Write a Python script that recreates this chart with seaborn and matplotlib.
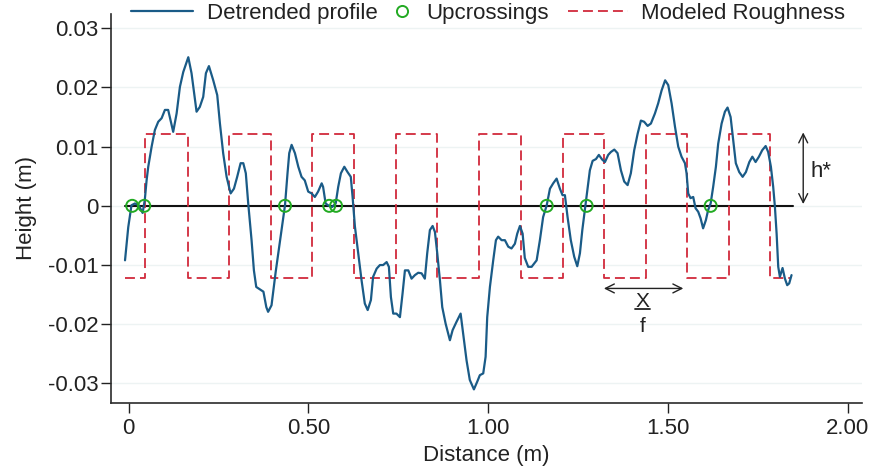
import numpy as np
import pandas as pd
import matplotlib
matplotlib.use("Agg")
import matplotlib.pyplot as plt
from matplotlib.lines import Line2D
import seaborn as sns

# ---------------- data ----------------
profile_x = [-0.010, -0.001, 0.008, 0.0175, 0.028, 0.039, 0.045, 0.050, 0.0546, 0.064,
             0.073, 0.0824, 0.0918, 0.101, 0.110, 0.124, 0.1335, 0.1427, 0.152, 0.166,
             0.175, 0.189, 0.198, 0.2075, 0.215, 0.2234, 0.2354, 0.2465, 0.254, 0.263,
             0.2726, 0.2837, 0.293, 0.302, 0.3115, 0.319, 0.326, 0.3327, 0.342, 0.3485,
             0.355, 0.365, 0.375, 0.383, 0.388, 0.3975, 0.409, 0.421, 0.435, 0.442,
             0.4468, 0.4534, 0.4626, 0.472, 0.481, 0.490, 0.4996, 0.509, 0.518, 0.527,
             0.537, 0.541, 0.548, 0.557, 0.566, 0.576, 0.583, 0.5905, 0.600, 0.609,
             0.618, 0.623, 0.6295, 0.6387, 0.648, 0.657, 0.665, 0.674, 0.680, 0.690,
             0.699, 0.708, 0.7177, 0.724, 0.7296, 0.736, 0.745, 0.7547, 0.762, 0.7686,
             0.778, 0.787, 0.7964, 0.8056, 0.815, 0.824, 0.8306, 0.838, 0.8456, 0.852,
             0.8585, 0.866, 0.8724, 0.8818, 0.889, 0.8937, 0.9012, 0.912, 0.9235, 0.9307,
             0.940, 0.949, 0.9605, 0.9697, 0.977, 0.9864, 0.993, 0.9975, 1.005, 1.0142,
             1.0217, 1.028, 1.0375, 1.0467, 1.056, 1.065, 1.0745, 1.081, 1.0885, 1.096,
             1.102, 1.1115, 1.121, 1.135, 1.144, 1.153, 1.163, 1.172, 1.181, 1.1905,
             1.1997, 1.207, 1.2136, 1.221, 1.230, 1.2395, 1.248, 1.2554, 1.262, 1.269,
             1.2768, 1.283, 1.2907, 1.300, 1.308, 1.3175, 1.325, 1.334, 1.3416, 1.351,
             1.360, 1.3694, 1.3786, 1.388, 1.397, 1.4064, 1.416, 1.425, 1.434, 1.4437,
             1.4528, 1.464, 1.473, 1.4826, 1.4924, 1.501, 1.5104, 1.5197, 1.5288, 1.538,
             1.5475, 1.552, 1.5566, 1.563, 1.5705, 1.577, 1.5844, 1.591, 1.598, 1.6058,
             1.612, 1.619, 1.626, 1.6336, 1.640, 1.6495, 1.6587, 1.666, 1.6745, 1.6818,
             1.689, 1.6985, 1.708, 1.717, 1.7266, 1.735, 1.744, 1.7533, 1.7625, 1.772,
             1.779, 1.7866, 1.793, 1.7978, 1.8025, 1.807, 1.8116, 1.819, 1.8256, 1.832,
             1.8375, 1.844]
profile_y = [-0.0092, -0.0036, 0.0001, 0.0004, 0.0001, -0.0012, 0.0010, 0.0043, 0.0066, 0.0100,
             0.0128, 0.0142, 0.0148, 0.0162, 0.0162, 0.0125, 0.0156, 0.0201, 0.0226, 0.0251,
             0.0224, 0.0159, 0.0167, 0.0184, 0.0224, 0.0236, 0.0212, 0.0187, 0.0139, 0.0089,
             0.0049, 0.0021, 0.0029, 0.0049, 0.0072, 0.0072, 0.0055, 0.0004, -0.0058, -0.0109,
             -0.0137, -0.0141, -0.0145, -0.0171, -0.0179, -0.0168, -0.0112, -0.0060, 0.0001, 0.0055,
             0.0089, 0.0103, 0.0089, 0.0066, 0.0049, 0.0043, 0.0024, 0.0021, 0.0015, 0.0024,
             0.0038, 0.0032, 0.0004, 0.0000, -0.0002, 0.0004, 0.0032, 0.0055, 0.0066, 0.0057,
             0.0049, 0.0015, -0.0035, -0.0080, -0.0126, -0.0165, -0.0176, -0.0159, -0.0120, -0.0106,
             -0.0100, -0.0100, -0.0095, -0.0103, -0.0154, -0.0182, -0.0182, -0.0188, -0.0148, -0.0109,
             -0.0109, -0.0123, -0.0117, -0.0113, -0.0114, -0.0123, -0.0080, -0.0041, -0.0034, -0.0044,
             -0.0080, -0.0126, -0.0171, -0.0199, -0.0216, -0.0227, -0.0210, -0.0196, -0.0182, -0.0216,
             -0.0261, -0.0294, -0.0310, -0.0297, -0.0286, -0.0283, -0.0255, -0.0188, -0.0137, -0.0092,
             -0.0058, -0.0052, -0.0058, -0.0058, -0.0069, -0.0072, -0.0064, -0.0047, -0.0034, -0.0047,
             -0.0088, -0.0103, -0.0103, -0.0092, -0.0058, -0.0019, 0.0001, 0.0029, 0.0038, 0.0046,
             0.0029, 0.0018, 0.0018, -0.0019, -0.0058, -0.0086, -0.0102, -0.0080, -0.0041, -0.0007,
             0.0032, 0.0060, 0.0076, 0.0079, 0.0086, 0.0078, 0.0074, 0.0086, 0.0091, 0.0095,
             0.0089, 0.0060, 0.0041, 0.0035, 0.0055, 0.0094, 0.0122, 0.0144, 0.0142, 0.0135,
             0.0139, 0.0156, 0.0173, 0.0195, 0.0212, 0.0204, 0.0173, 0.0134, 0.0100, 0.0083,
             0.0072, 0.0055, 0.0021, 0.0013, 0.0015, -0.0004, -0.0010, -0.0021, -0.0038, -0.0024,
             -0.0007, 0.0004, 0.0032, 0.0066, 0.0105, 0.0139, 0.0159, 0.0166, 0.0150, 0.0111,
             0.0072, 0.0057, 0.0049, 0.0057, 0.0074, 0.0083, 0.0074, 0.0083, 0.0094, 0.0101,
             0.0091, 0.0066, 0.0032, -0.0002, -0.0047, -0.0103, -0.0120, -0.0105, -0.0123, -0.0134,
             -0.0131, -0.0117]

upcross_x = [0.010, 0.0435, 0.435, 0.558, 0.577, 1.163, 1.274, 1.619]
upcross_y = [0, 0, 0, 0, 0, 0, 0, 0]

rough_edges = [-0.010, 0.045, 0.164, 0.278, 0.395, 0.511, 0.627, 0.743, 0.858,
               0.975, 1.091, 1.207, 1.322, 1.438, 1.553, 1.670, 1.785, 1.843]
h_star = 0.0122

zero_x = [-0.010, 1.848]
zero_y = [0, 0]

xtick_vals = [0, 0.5, 1.0, 1.5, 2.0]
xtick_labels = ["0", "0.50", "1.00", "1.50", "2.00"]
ytick_vals = [-0.03, -0.02, -0.01, 0, 0.01, 0.02, 0.03]
ytick_labels = ["-0.03", "-0.02", "-0.01", "0", "0.01", "0.02", "0.03"]

# build the square wave from the edges
sq_x, sq_y = [], []
for i in range(len(rough_edges) - 1):
    lvl = -h_star if i % 2 == 0 else h_star
    sq_x += [rough_edges[i], rough_edges[i + 1]]
    sq_y += [lvl, lvl]
rough_df = pd.DataFrame({"x": sq_x, "y": sq_y, "o": np.arange(len(sq_x))})
prof_df = pd.DataFrame({"x": profile_x, "y": profile_y})
up_df = pd.DataFrame({"x": upcross_x, "y": upcross_y})

# ---------------- style ----------------
sns.set_theme(style="white")
plt.rcParams["font.family"] = ["Liberation Sans", "DejaVu Sans"]
plt.rcParams["axes.unicode_minus"] = False

BLUE = "#1a5b87"
RED = "#d12a3c"
GREEN = "#22aa22"
FS = 16

fig = plt.figure(figsize=(8.73, 4.68), dpi=100)
ax = fig.add_axes([111 / 873, 1 - 403 / 468, (862 - 111) / 873, (403 - 14) / 468])

ax.yaxis.grid(True, color="#edf3f3", lw=1.0)
ax.set_axisbelow(True)

ax.plot(zero_x, zero_y, color="#111111", lw=1.5, zorder=2)
sns.lineplot(data=rough_df, x="x", y="y", sort=False, estimator=None, ax=ax,
             color=RED, lw=1.3, dashes=False, zorder=3).lines[-1].set_dashes((5.5, 2.8))
sns.lineplot(data=prof_df, x="x", y="y", sort=False, estimator=None, ax=ax,
             color=BLUE, lw=1.6, zorder=4)
sns.scatterplot(data=up_df, x="x", y="y", ax=ax, s=75, facecolor="none",
                edgecolor=GREEN, linewidth=1.4, zorder=5)

ax.set_xlim(-0.049, 2.04)
ax.set_ylim(-0.0333, 0.0324)
ax.set_xticks(xtick_vals)
ax.set_xticklabels(xtick_labels)
ax.set_yticks(ytick_vals)
ax.set_yticklabels(ytick_labels)
ax.tick_params(axis="both", labelsize=FS, colors="#222222", length=7, width=1,
               direction="out", left=True, bottom=True)
ax.tick_params(axis="y", pad=2)
ax.tick_params(axis="x", pad=4)
for s in ["top", "right"]:
    ax.spines[s].set_visible(False)
for s in ["left", "bottom"]:
    ax.spines[s].set_color("#2b2b2b")
    ax.spines[s].set_linewidth(1.2)

ax.set_xlabel("Distance (m)", fontsize=FS, color="#222222", labelpad=4)
ax.set_ylabel("Height (m)", fontsize=FS, color="#222222", labelpad=8)

# annotations
ax.annotate("", xy=(1.8765, 0.0124), xytext=(1.8765, 0.0003),
            arrowprops=dict(arrowstyle="<->", color="#222222", lw=1.0,
                            mutation_scale=16, shrinkA=0, shrinkB=0))
ax.text(1.898, 0.0058, "h*", fontsize=FS, color="#222222", ha="left", va="center")
ax.annotate("", xy=(1.322, -0.01395), xytext=(1.543, -0.01395),
            arrowprops=dict(arrowstyle="<->", color="#222222", lw=1.0,
                            mutation_scale=16, shrinkA=0, shrinkB=0))
ax.text(1.429, -0.0161, "X", fontsize=15, color="#222222", ha="center", va="center")
ax.plot([1.409, 1.450], [-0.01745, -0.01745], color="#222222", lw=1.3)
ax.text(1.429, -0.0203, "f", fontsize=15, color="#222222", ha="center", va="center")

# legend (three pieces to reproduce the spacing)
ly = 1 - 13.5 / 468
h1 = Line2D([], [], color=BLUE, lw=1.6)
h2 = Line2D([], [], color=GREEN, lw=0, marker="o", markersize=8,
            markerfacecolor="none", markeredgewidth=1.4)
h3 = Line2D([], [], color=RED, lw=1.3, dashes=(5.5, 2.8))
common = dict(loc="center left", frameon=False, fontsize=FS, borderpad=0,
              borderaxespad=0, handletextpad=0.6, labelcolor="#222222")
fig.legend([h1], ["Detrended profile"], bbox_to_anchor=(131 / 873, ly),
           handlelength=2.8, **common)
fig.legend([h2], ["Upcrossings"], bbox_to_anchor=(391 / 873, ly),
           handlelength=1.0, **common)
fig.legend([h3], ["Modeled Roughness"], bbox_to_anchor=(568 / 873, ly),
           handlelength=2.7, **common)

fig.savefig("out.png", dpi=100)
